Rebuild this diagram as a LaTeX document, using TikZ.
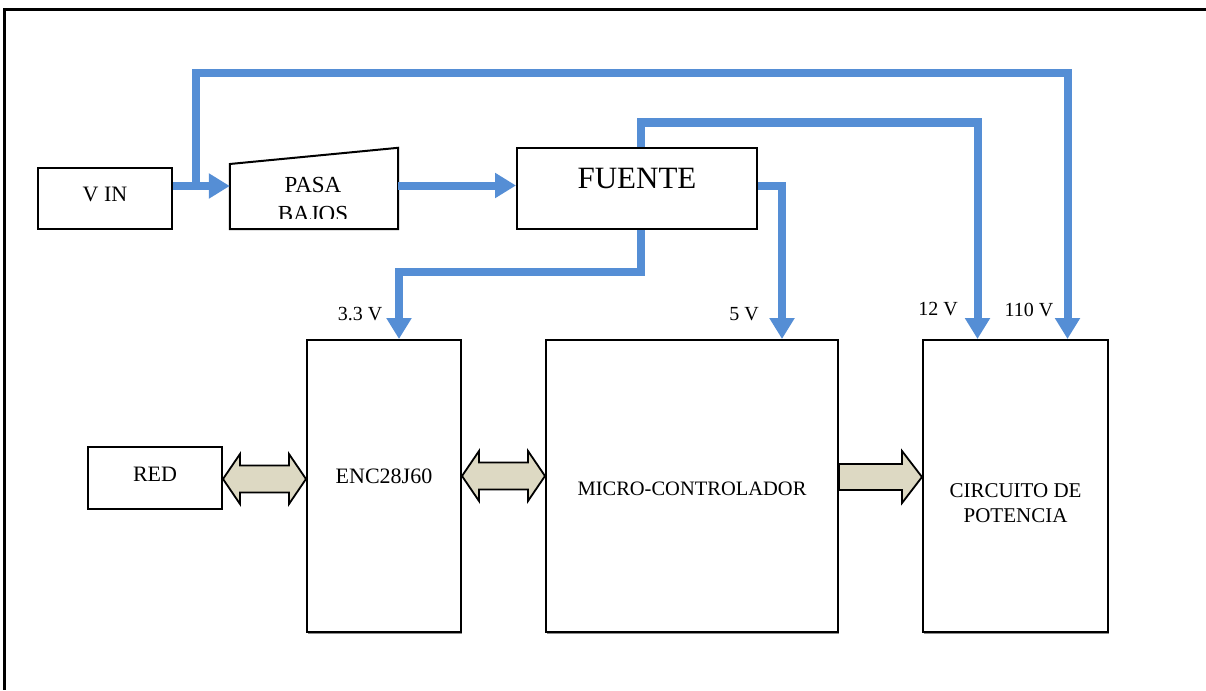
\documentclass[tikz,border=0pt]{standalone}
\usepackage{fontspec}
\setmainfont{Liberation Serif}
\usetikzlibrary{arrows.meta,calc,shadows}
\definecolor{feedblue}{RGB}{85,142,213}
\definecolor{busfill}{RGB}{221,217,195}

% double-headed bus arrow between two anchors, centred on height #3
\newcommand\twowaybus[3]{%
  \draw[bus] let \p1=(#1), \p2=(#2) in
    (\x1,#3) -- (\x1+17pt,#3-25) -- (\x1+17pt,#3-13.5) -- (\x2-17pt,#3-13.5)
    -- (\x2-17pt,#3-25) -- (\x2,#3) -- (\x2-17pt,#3+25) -- (\x2-17pt,#3+13.5)
    -- (\x1+17pt,#3+13.5) -- (\x1+17pt,#3+25) -- cycle;}
% single-headed bus arrow from #1 to #2, centred on height #3
\newcommand\onewaybus[3]{%
  \draw[bus] let \p1=(#1), \p2=(#2) in
    (\x1,#3-13) -- (\x2-20pt,#3-13) -- (\x2-20pt,#3-26) -- (\x2,#3)
    -- (\x2-20pt,#3+26) -- (\x2-20pt,#3+13) -- (\x1,#3+13) -- cycle;}

\begin{document}
\begin{tikzpicture}[x=1pt,y=-1pt,
  box/.style={draw=black, line width=2pt, fill=white, inner sep=0pt, rectangle},
  bigbox/.style={box, drop shadow={shadow xshift=1pt, shadow yshift=-2pt, fill=black!45, opacity=1}},
  feed/.style={draw=feedblue, line width=8pt, line join=miter, -{Triangle[length=21pt,width=24pt]}},
  bus/.style={draw=black, line width=1.8pt, fill=busfill, line join=miter},
  txt/.style={inner sep=0pt, font=\fontsize{22}{26}\selectfont},
  lbl/.style={inner sep=0pt, font=\fontsize{20}{24}\selectfont},
]
\useasboundingbox (0,0) rectangle (1206,690);

% page frame
\draw[line width=3pt] (1206,10) -- (4,10) -- (4,690);

% blocks
\node[box, minimum width=134pt, minimum height=61pt] (vin) at (105,198.5) {};
\node[inner sep=0pt, minimum width=168pt, minimum height=81pt] (pasa) at (314,188.5) {};
\draw[box] (pasa.south west) -- (pasa.west |- 0,164) -- (pasa.north east) -- (pasa.south east) -- cycle;
\node[box, minimum width=240pt, minimum height=81pt] (fuente) at (637,188.5) {};
\node[box, minimum width=134pt, minimum height=62pt] (red) at (155,478) {};
\node[bigbox, minimum width=154pt, minimum height=292pt] (enc) at (384,486) {};
\node[bigbox, minimum width=292pt, minimum height=292pt] (mcu) at (692,486) {};
\node[bigbox, minimum width=185pt, minimum height=292pt] (circ) at (1015.5,486) {};

% block texts
\node[txt] (t-vin) at (105,194.5) {V IN};
\begin{scope}
  \clip (pasa.north west) rectangle (pasa.east |- 0,218.5);
  \node[txt, font=\fontsize{23}{27}\selectfont] (t-pasa) at (313,185) {PASA};
  \node[txt, font=\fontsize{23}{27}\selectfont] (t-bajos) at (313,214) {BAJOS};
\end{scope}
\node[inner sep=0pt, font=\fontsize{31}{36}\selectfont] (t-fuente) at (637,179) {FUENTE};
\node[txt] (t-red) at (155,474.5) {RED};
\node[txt] (t-enc) at (384,476) {ENC28J60};
\node[txt, font=\fontsize{20.5}{24}\selectfont] (t-mcu) at (692,488.5) {MICRO-CONTROLADOR};
\node[txt, font=\fontsize{21}{25}\selectfont, align=center] (t-circ) at (1015.5,503) {CIRCUITO DE\\POTENCIA};

% supply rail labels
\node[lbl] (l33) at (360,314) {3.3 V};
\node[lbl] (l5) at (744,314) {5 V};
\node[lbl] (l12) at (938,309.5) {12 V};
\node[lbl] (l110) at (1029,309.5) {110 V};

% power feeds
\coordinate (split) at (196,186);
\coordinate (top110) at (1067.5,73.5);
\coordinate (top12) at (977.5,122.5);
\coordinate (mid33) at (399,271.5);
\draw[feed] (vin.east |- 0,186) -- (pasa.west |- 0,186);
\draw[feed] (split) |- (top110) -- (top110 |- circ.north);
\draw[feed] (pasa.east |- 0,185.5) -- (fuente.west |- 0,185.5);
\draw[feed] (640.5,0 |- fuente.north) |- (top12) -- (top12 |- circ.north);
\draw[feed] (fuente.east |- 0,185.5) -| (782,0 |- mcu.north);
\draw[feed] (640.5,0 |- fuente.south) |- (mid33) -- (mid33 |- enc.north);

% data buses
\twowaybus{red.east}{enc.west}{479}
\twowaybus{enc.east}{mcu.west}{476}
\onewaybus{mcu.east}{circ.west}{477}
\end{tikzpicture}
\end{document}
